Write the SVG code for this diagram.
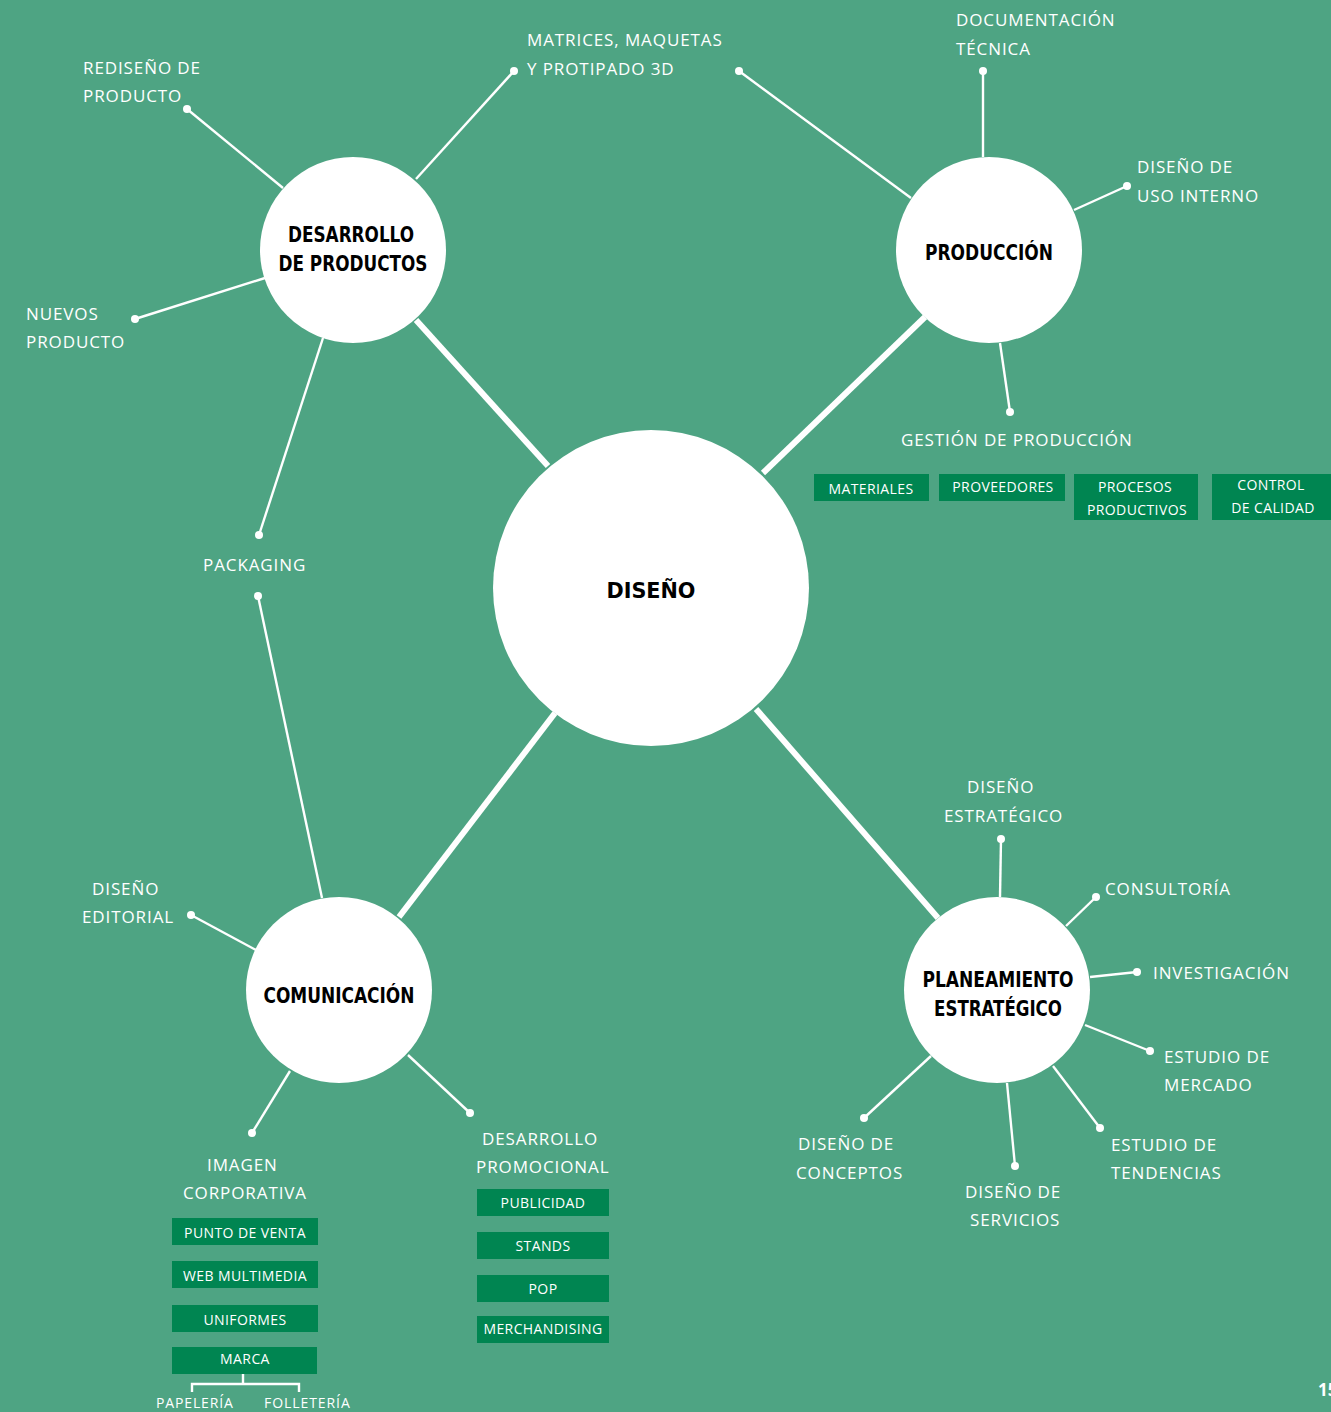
<svg xmlns="http://www.w3.org/2000/svg" width="1331" height="1412" viewBox="0 0 1331 1412">
<style>
.bg{fill:#4ea483}
.node{fill:#fff}
.thick{stroke:#fff;stroke-width:6;fill:none}
.thin{stroke:#fff;stroke-width:2.4;fill:none}
.dot{fill:#fff}
.lbl{fill:#fff;font-family:"Open Sans","Noto Sans",sans-serif;font-size:17px;letter-spacing:0.9px}
.sm{fill:#fff;font-family:"Open Sans","Noto Sans",sans-serif;font-size:14px;letter-spacing:0.2px}
.box{fill:#008551}
.btxt{fill:#fff;font-family:"Open Sans","Noto Sans",sans-serif;font-size:14px;text-anchor:middle;letter-spacing:0.4px}
.ntxt{fill:#000;font-family:"DejaVu Sans Condensed","Open Sans",sans-serif;font-weight:bold;font-size:21px;text-anchor:middle}
</style>
<rect class="bg" x="0" y="0" width="1331" height="1412"/>
<g id="connectors">
<line class="thick" x1="548" y1="466" x2="416" y2="320"/>
<line class="thick" x1="763" y1="473" x2="925" y2="317"/>
<line class="thick" x1="555" y1="713" x2="399" y2="917"/>
<line class="thick" x1="756" y1="709" x2="938" y2="918"/>
<line class="thin" x1="187" y1="109" x2="283" y2="188"/>
<line class="thin" x1="514" y1="71" x2="416" y2="179"/>
<line class="thin" x1="135" y1="319" x2="265" y2="278"/>
<line class="thin" x1="259" y1="535" x2="323" y2="338"/>
<line class="thin" x1="739" y1="71" x2="911" y2="198"/>
<line class="thin" x1="983" y1="71" x2="983" y2="157"/>
<line class="thin" x1="1127" y1="186" x2="1074" y2="210"/>
<line class="thin" x1="1010" y1="412" x2="1000" y2="343"/>
<line class="thin" x1="258" y1="596" x2="322" y2="898"/>
<line class="thin" x1="191" y1="915" x2="256" y2="950"/>
<line class="thin" x1="252" y1="1133" x2="290" y2="1071"/>
<line class="thin" x1="470" y1="1113" x2="408" y2="1055"/>
<line class="thin" x1="1001" y1="839" x2="1000" y2="897"/>
<line class="thin" x1="1096" y1="897" x2="1066" y2="926"/>
<line class="thin" x1="1137" y1="972" x2="1090" y2="977"/>
<line class="thin" x1="1150" y1="1051" x2="1085" y2="1025"/>
<line class="thin" x1="1100" y1="1128" x2="1053" y2="1066"/>
<line class="thin" x1="1015" y1="1166" x2="1007" y2="1083"/>
<line class="thin" x1="864" y1="1118" x2="931" y2="1056"/>
<g class="dot">
<circle cx="187" cy="109" r="4"/><circle cx="514" cy="71" r="4"/><circle cx="135" cy="319" r="4"/><circle cx="259" cy="535" r="4"/>
<circle cx="739" cy="71" r="4"/><circle cx="983" cy="71" r="4"/><circle cx="1127" cy="186" r="4"/><circle cx="1010" cy="412" r="4"/>
<circle cx="258" cy="596" r="4"/><circle cx="191" cy="915" r="4"/><circle cx="252" cy="1133" r="4"/><circle cx="470" cy="1113" r="4"/>
<circle cx="1001" cy="839" r="4"/><circle cx="1096" cy="897" r="4"/><circle cx="1137" cy="972" r="4"/><circle cx="1150" cy="1051" r="4"/>
<circle cx="1100" cy="1128" r="4"/><circle cx="1015" cy="1166" r="4"/><circle cx="864" cy="1118" r="4"/>
</g>
<path class="thin" d="M243 1374 V1384 M192 1392 V1384 H299 V1392" stroke-width="2"/>
</g>
<g id="diseno">
<circle class="node" cx="651" cy="588" r="158"/>
<text class="ntxt" x="651" y="598" font-size="30" textLength="89" lengthAdjust="spacingAndGlyphs">DISEÑO</text>
</g>
<g id="desarrollo-productos">
<circle class="node" cx="353" cy="250" r="93"/>
<text class="ntxt" x="351" y="242" textLength="126" lengthAdjust="spacingAndGlyphs">DESARROLLO</text>
<text class="ntxt" x="353" y="271" textLength="149" lengthAdjust="spacingAndGlyphs">DE PRODUCTOS</text>
</g>
<g id="produccion">
<circle class="node" cx="989" cy="250" r="93"/>
<text class="ntxt" x="989" y="260" textLength="128" lengthAdjust="spacingAndGlyphs">PRODUCCIÓN</text>
</g>
<g id="comunicacion">
<circle class="node" cx="339" cy="990" r="93"/>
<text class="ntxt" x="339" y="1003" textLength="151" lengthAdjust="spacingAndGlyphs">COMUNICACIÓN</text>
</g>
<g id="planeamiento">
<circle class="node" cx="997" cy="990" r="93"/>
<text class="ntxt" x="998" y="987" textLength="151" lengthAdjust="spacingAndGlyphs">PLANEAMIENTO</text>
<text class="ntxt" x="998" y="1016" textLength="128" lengthAdjust="spacingAndGlyphs">ESTRATÉGICO</text>
</g>
<g id="labels">
<text class="lbl" x="83" y="74">REDISEÑO DE</text>
<text class="lbl" x="83" y="102">PRODUCTO</text>
<text class="lbl" x="527" y="46">MATRICES, MAQUETAS</text>
<text class="lbl" x="527" y="75">Y PROTIPADO 3D</text>
<text class="lbl" x="956" y="26">DOCUMENTACIÓN</text>
<text class="lbl" x="956" y="55">TÉCNICA</text>
<text class="lbl" x="1137" y="173">DISEÑO DE</text>
<text class="lbl" x="1137" y="202">USO INTERNO</text>
<text class="lbl" x="26" y="320">NUEVOS</text>
<text class="lbl" x="26" y="348">PRODUCTO</text>
<text class="lbl" x="901" y="446">GESTIÓN DE PRODUCCIÓN</text>
<text class="lbl" x="203" y="571">PACKAGING</text>
<text class="lbl" x="92" y="895">DISEÑO</text>
<text class="lbl" x="82" y="923">EDITORIAL</text>
<text class="lbl" x="207" y="1171">IMAGEN</text>
<text class="lbl" x="183" y="1199">CORPORATIVA</text>
<text class="lbl" x="482" y="1145">DESARROLLO</text>
<text class="lbl" x="476" y="1173">PROMOCIONAL</text>
<text class="lbl" x="967" y="793">DISEÑO</text>
<text class="lbl" x="944" y="822">ESTRATÉGICO</text>
<text class="lbl" x="1105" y="895">CONSULTORÍA</text>
<text class="lbl" x="1153" y="979">INVESTIGACIÓN</text>
<text class="lbl" x="1164" y="1063">ESTUDIO DE</text>
<text class="lbl" x="1164" y="1091">MERCADO</text>
<text class="lbl" x="1111" y="1151">ESTUDIO DE</text>
<text class="lbl" x="1111" y="1179">TENDENCIAS</text>
<text class="lbl" x="798" y="1150">DISEÑO DE</text>
<text class="lbl" x="796" y="1179">CONCEPTOS</text>
<text class="lbl" x="965" y="1198">DISEÑO DE</text>
<text class="lbl" x="970" y="1226">SERVICIOS</text>
<text class="sm" x="156" y="1408" textLength="77">PAPELERÍA</text>
<text class="sm" x="264" y="1408" textLength="86">FOLLETERÍA</text>
<text x="1318" y="1396" fill="#fff" font-family="'Open Sans',sans-serif" font-weight="bold" font-size="17">15</text>
</g>
<g id="boxes">
<rect class="box" x="814" y="474" width="115" height="27"/><text class="btxt" x="871" y="494">MATERIALES</text>
<rect class="box" x="939" y="474" width="126" height="27"/><text class="btxt" x="1003" y="492">PROVEEDORES</text>
<rect class="box" x="1074" y="474" width="124" height="46"/><text class="btxt" x="1135" y="492">PROCESOS</text><text class="btxt" x="1137" y="515">PRODUCTIVOS</text>
<rect class="box" x="1212" y="474" width="119" height="46"/><text class="btxt" x="1271" y="490">CONTROL</text><text class="btxt" x="1273" y="513">DE CALIDAD</text>
<rect class="box" x="172" y="1218" width="146" height="27"/><text class="btxt" x="245" y="1238">PUNTO DE VENTA</text>
<rect class="box" x="172" y="1261" width="146" height="27"/><text class="btxt" x="245" y="1281">WEB MULTIMEDIA</text>
<rect class="box" x="172" y="1305" width="146" height="27"/><text class="btxt" x="245" y="1325">UNIFORMES</text>
<rect class="box" x="172" y="1347" width="145" height="27"/><text class="btxt" x="245" y="1364">MARCA</text>
<rect class="box" x="477" y="1189" width="132" height="27"/><text class="btxt" x="543" y="1208">PUBLICIDAD</text>
<rect class="box" x="477" y="1232" width="132" height="27"/><text class="btxt" x="543" y="1251">STANDS</text>
<rect class="box" x="477" y="1275" width="132" height="27"/><text class="btxt" x="543" y="1294">POP</text>
<rect class="box" x="477" y="1316" width="132" height="27"/><text class="btxt" x="543" y="1334">MERCHANDISING</text>
</g>
</svg>
